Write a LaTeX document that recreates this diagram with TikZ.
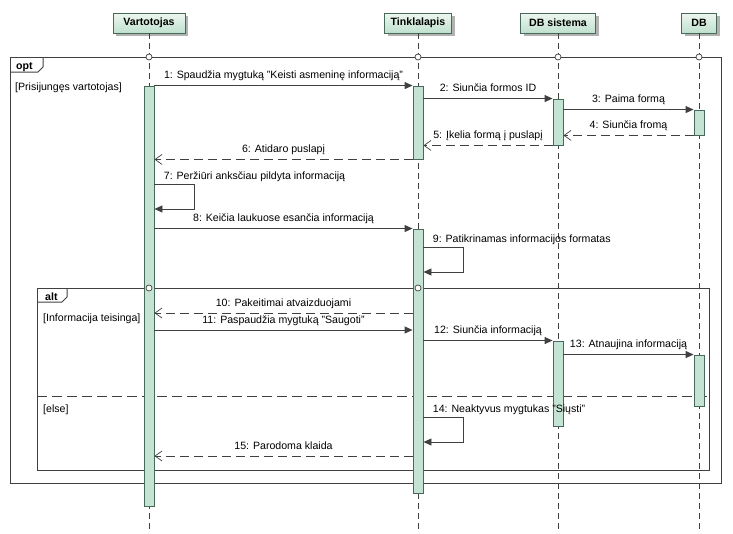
\documentclass[tikz,border=0pt]{standalone}
\usepackage{fontspec}
\setmainfont{Liberation Sans}
\usepackage{tikz}
\usetikzlibrary{arrows.meta}
\usetikzlibrary{shadows}

\definecolor{lineGray}{HTML}{404040}
\definecolor{actFill}{HTML}{C4E3D2}
\definecolor{actLine}{HTML}{46695A}
\definecolor{headTop}{HTML}{EDF7F1}
\definecolor{headBot}{HTML}{BFE0CE}

\tikzset{
	life/.style={draw=lineGray, line width=0.7pt, dash pattern=on 6pt off 4pt},
	frame/.style={draw=lineGray, line width=1pt},
	sync/.style={draw=lineGray, line width=0.9pt, -{Triangle[length=8pt,width=7pt,fill=lineGray]}},
	reply/.style={draw=lineGray, line width=0.9pt, dash pattern=on 9pt off 5pt, -{Straight Barb[length=7pt,width=10pt,line width=0.7pt]}},
	lbl/.style={above=3pt, inner sep=1pt, text height=8pt, text depth=2.5pt},
	selflbl/.style={anchor=south west, inner sep=1pt, text height=8pt, text depth=2.5pt, xshift=8pt, yshift=1pt},
	guard/.style={anchor=base west, inner sep=0pt},
	ring/.style={draw=lineGray, fill=white, line width=0.7pt}
}

\begin{document}
\begin{tikzpicture}[x=1pt, y=-1pt, font=\fontsize{10.6}{12}\selectfont]
	\useasboundingbox (0,0) rectangle (733,533);
	\coordinate (bottom) at (0,533);
	\coordinate (optTop) at (0,57);
	\coordinate (altTop) at (0,288);

	\begin{scope}[every node/.style = {draw=actLine, top color=headTop, bottom color=headBot,
			font=\fontsize{10.6}{12}\selectfont\bfseries, minimum height=20pt, inner sep=0pt,
			drop shadow={shadow xshift=3pt, shadow yshift=-3pt, fill=black!30, opacity=1}}]
		\node[minimum width=72pt] (V) at (149,23) {Vartotojas};
		\node[minimum width=67pt] (T) at (418,23) {Tinklalapis};
		\node[minimum width=75pt] (S) at (558,23) {DB sistema};
		\node[minimum width=35pt] (D) at (699,23) {DB};
	\end{scope}

	\foreach \p in {V,T,S,D}
		\draw[life] (\p.south) -- (\p.south |- bottom);

	% opt
	\draw[frame] (10,57) rectangle (721,483);
	\draw[frame] (10,72) -- (38,72) -- (43,67) -- (43,57);
	\node[guard, font=\fontsize{10.6}{12}\selectfont\bfseries] (opt) at (16,69) {opt};
	\node[guard] (g1) at (15,90) {[Prisijungęs vartotojas]};

	% alt
	\draw[frame] (37,288) rectangle (709,470);
	\draw[frame] (37,302) -- (62,302) -- (67,297) -- (67,288);
	\node[guard, font=\fontsize{10.6}{12}\selectfont\bfseries] (alt) at (45,300.5) {alt};
	\node[guard] (g2) at (43,321) {[Informacija teisinga]};
	\draw[draw=lineGray, line width=0.9pt, dash pattern=on 10pt off 5pt] (37,396) -- (709,396);
	\node[guard] (g3) at (43,412) {[else]};

	\begin{scope}[every node/.style = {draw=actLine, fill=actFill, minimum width=10pt, inner sep=0pt, line width=0.9pt}]
		\node[minimum height=420pt] (aV) at (149,296) {};
		\node[minimum height=73pt] (aT1) at (418,122.5) {};
		\node[minimum height=46pt] (aS1) at (558,122) {};
		\node[minimum height=25pt] (aD1) at (699,122.5) {};
		\node[minimum height=264pt] (aT2) at (418,361) {};
		\node[minimum height=85pt] (aS2) at (558,383.5) {};
		\node[minimum height=51pt] (aD2) at (699,380.5) {};
	\end{scope}

	\coordinate (m7a) at (0,184);
	\coordinate (m7b) at (0,209);
	\coordinate (m9a) at (0,247);
	\coordinate (m9b) at (0,272);
	\coordinate (m10) at (0,313);
	\coordinate (m11) at (0,330);
	\coordinate (m14a) at (0,417);
	\coordinate (m14b) at (0,442);
	\coordinate (m15) at (0,456);

	\path (aV.east |- aT1.north) edge[sync] node[lbl] {1: Spaudžia mygtuką "Keisti asmeninę informaciją"} (aT1.north west);
	\path (aT1.east |- aS1.north) edge[sync] node[lbl] {2: Siunčia formos ID} (aS1.north west);
	\path (aS1.east |- aD1.north) edge[sync] node[lbl] {3: Paima formą} (aD1.north west);
	\path (aD1.south west) edge[reply] node[lbl] {4: Siunčia fromą} (aS1.east |- aD1.south);
	\path (aS1.south west) edge[reply] node[lbl] {5: Įkelia formą į puslapį} (aT1.east |- aS1.south);
	\path (aT1.south west) edge[reply] node[lbl] {6: Atidaro puslapį} (aV.east |- aT1.south);
	\draw[sync] (aV.east |- m7a) node[selflbl] {7: Peržiūri anksčiau pildyta informaciją} -- ++(40,0) |- (aV.east |- m7b);
	\path (aV.east |- aT2.north) edge[sync] node[lbl] {8: Keičia laukuose esančia informaciją} (aT2.north west);
	\draw[sync] (aT2.east |- m9a) node[selflbl] {9: Patikrinamas informacijos formatas} -- ++(40,0) |- (aT2.east |- m9b);
	\path (aT2.west |- m10) edge[reply] node[lbl] {10: Pakeitimai atvaizduojami} (aV.east |- m10);
	\path (aV.east |- m11) edge[sync] node[lbl] {11: Paspaudžia mygtuką "Saugoti"} (aT2.west |- m11);
	\path (aT2.east |- aS2.north) edge[sync] node[lbl] {12: Siunčia informaciją} (aS2.north west);
	\path (aS2.east |- aD2.north) edge[sync] node[lbl] {13: Atnaujina informaciją} (aD2.north west);
	\draw[sync] (aT2.east |- m14a) node[selflbl] {14: Neaktyvus mygtukas "Siųsti"} -- ++(40,0) |- (aT2.east |- m14b);
	\path (aT2.west |- m15) edge[reply] node[lbl] {15: Parodoma klaida} (aV.east |- m15);

	\foreach \p in {V,T,S,D}
		\draw[ring] (\p |- optTop) circle [radius=3];
	\foreach \p in {V,T}
		\draw[ring] (\p |- altTop) circle [radius=3];
\end{tikzpicture}
\end{document}
